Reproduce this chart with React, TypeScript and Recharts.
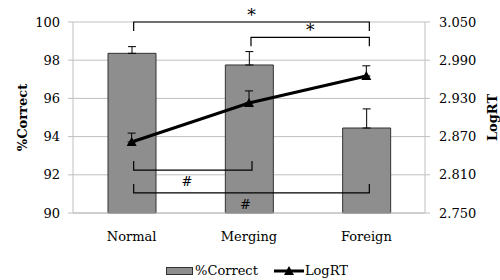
import {
    ComposedChart,
    Bar,
    Line,
    XAxis,
    YAxis,
    CartesianGrid,
    ErrorBar,
    ReferenceLine,
    Legend,
} from 'recharts';

const categories = ['Normal', 'Merging', 'Foreign'];
const correctValues = [98.36, 97.75, 94.45];
const correctErrors = [0.35, 0.7, 1.0];
const logRTValues = [2.8615, 2.9228, 2.9652];
const logRTErrors = [0.014, 0.019, 0.016];

const leftTicks = [90, 92, 94, 96, 98, 100];
const rightTicks = [2.75, 2.81, 2.87, 2.93, 2.99, 3.05];

// significance brackets (levels on the %Correct axis)
const bracketFrom = ['Normal', 'Merging', 'Normal', 'Normal'];
const bracketTo = ['Foreign', 'Foreign', 'Merging', 'Foreign'];
const bracketLevel = [100, 99.2, 92.25, 91.05];
const bracketMark = ['*', '*', '#', '#'];

const data = categories.map((name, i) => ({
    name,
    correct: correctValues[i],
    correctErr: [0, correctErrors[i]],
    logRT: logRTValues[i],
    logRTErr: [0, logRTErrors[i]],
}));

const GRID = '#bfbfbf';
const FONT = "'DejaVu Serif', serif";

const Triangle = (props: any) => {
    const { cx, cy } = props;
    if (cx == null || cy == null) return null;
    return (
        <polygon
            points={`${cx},${cy - 5} ${cx + 5},${cy + 4} ${cx - 5},${cy + 4}`}
            fill="#000"
        />
    );
};

const bracketShape = (mark: string) => (props: any) => {
    const { x1, y1, x2 } = props;
    if (x1 == null) return <g />;
    const up = mark === '#';
    const tick = up ? -9 : 9;
    const a = x1 + 2;
    const b = x2 + 3;
    const mid = (a + b) / 2 - (up ? 6 : 0);
    return (
        <g>
            <path
                d={`M${a},${y1 + tick} L${a},${y1} L${b},${y1} L${b},${y1 + tick}`}
                fill="none"
                stroke="#000"
                strokeWidth={1.2}
            />
            <text
                x={mid}
                y={up ? y1 + 16 : y1 - 1}
                textAnchor="middle"
                fontSize={up ? 13 : 17}
                fontFamily={FONT}
                fill="#000"
            >
                {mark}
            </text>
        </g>
    );
};

const LegendContent = () => (
    <div
        style={{
            display: 'flex',
            justifyContent: 'center',
            alignItems: 'center',
            fontSize: 13,
            fontFamily: FONT,
            paddingLeft: 14,
            color: '#000',
        }}
    >
        <svg width={27} height={8}>
            <rect x={0.5} y={0.5} width={26} height={7} fill="#8e8e8e" stroke="#333" />
        </svg>
        <span style={{ marginLeft: 2, marginRight: 16 }}>%Correct</span>
        <svg width={30} height={10}>
            <line x1={0} y1={5} x2={30} y2={5} stroke="#000" strokeWidth={3} />
            <polygon points="15,0 20,9 10,9" fill="#000" />
        </svg>
        <span style={{ marginLeft: 1 }}>LogRT</span>
    </div>
);

export default function App() {
    return (
        <div style={{ position: 'absolute', left: 0, top: 0, fontFamily: FONT }}>
            <ComposedChart
                width={500}
                height={280}
                data={data}
                margin={{ top: 22, right: 0, left: 0, bottom: 37 }}
            >
                <CartesianGrid vertical={false} stroke={GRID} yAxisId="left" />
                <XAxis
                    xAxisId="edge"
                    type="number"
                    domain={[0, 3]}
                    ticks={[0, 1, 2, 3]}
                    allowDataOverflow
                    tick={false}
                    axisLine={false}
                    tickLine={{ stroke: GRID }}
                    tickSize={5}
                    height={0}
                />
                <XAxis
                    dataKey="name"
                    tickLine={false}
                    tickSize={0}
                    tickMargin={19}
                    axisLine={{ stroke: GRID }}
                    tick={{ fill: '#000', fontSize: 13 }}
                    height={30}
                />
                <YAxis
                    yAxisId="left"
                    domain={[90, 100]}
                    ticks={leftTicks}
                    width={73}
                    tickSize={5}
                    tickMargin={8}
                    axisLine={{ stroke: GRID }}
                    tickLine={{ stroke: GRID }}
                    tick={{ fill: '#000', fontSize: 13 }}
                    label={{
                        value: '%Correct',
                        angle: -90,
                        position: 'insideLeft',
                        offset: 22,
                        style: { textAnchor: 'middle', fontWeight: 'bold', fontSize: 13, fill: '#000' },
                    }}
                />
                <YAxis
                    yAxisId="right"
                    orientation="right"
                    domain={[2.75, 3.05]}
                    ticks={rightTicks}
                    width={75}
                    tickSize={5}
                    tickMargin={9}
                    axisLine={{ stroke: GRID }}
                    tickLine={{ stroke: GRID }}
                    tick={{ fill: '#000', fontSize: 13 }}
                    tickFormatter={(v: number) => v.toFixed(3)}
                    label={{
                        value: 'LogRT',
                        angle: -90,
                        position: 'insideRight',
                        offset: 8,
                        style: { textAnchor: 'middle', fontWeight: 'bold', fontSize: 13, fill: '#000' },
                    }}
                />
                <Bar
                    yAxisId="left"
                    dataKey="correct"
                    barSize={48}
                    fill="#8e8e8e"
                    stroke="#333"
                    strokeWidth={1}
                    isAnimationActive={false}
                >
                    <ErrorBar dataKey="correctErr" width={4} stroke="#000" strokeWidth={1} />
                </Bar>
                <Line
                    yAxisId="right"
                    dataKey="logRT"
                    stroke="#000"
                    strokeWidth={3}
                    dot={<Triangle />}
                    activeDot={false}
                    isAnimationActive={false}
                >
                    <ErrorBar dataKey="logRTErr" width={4} stroke="#000" strokeWidth={1} />
                </Line>
                {bracketMark.map((mark, i) => (
                    <ReferenceLine
                        key={i}
                        yAxisId="left"
                        ifOverflow="visible"
                        segment={[
                            { x: bracketFrom[i], y: bracketLevel[i] },
                            { x: bracketTo[i], y: bracketLevel[i] },
                        ]}
                        shape={bracketShape(mark)}
                    />
                ))}
                <Legend
                    verticalAlign="middle"
                    align="center"
                    content={<LegendContent />}
                    wrapperStyle={{ top: 263, left: 0, width: 500 }}
                />
            </ComposedChart>
        </div>
    );
}
